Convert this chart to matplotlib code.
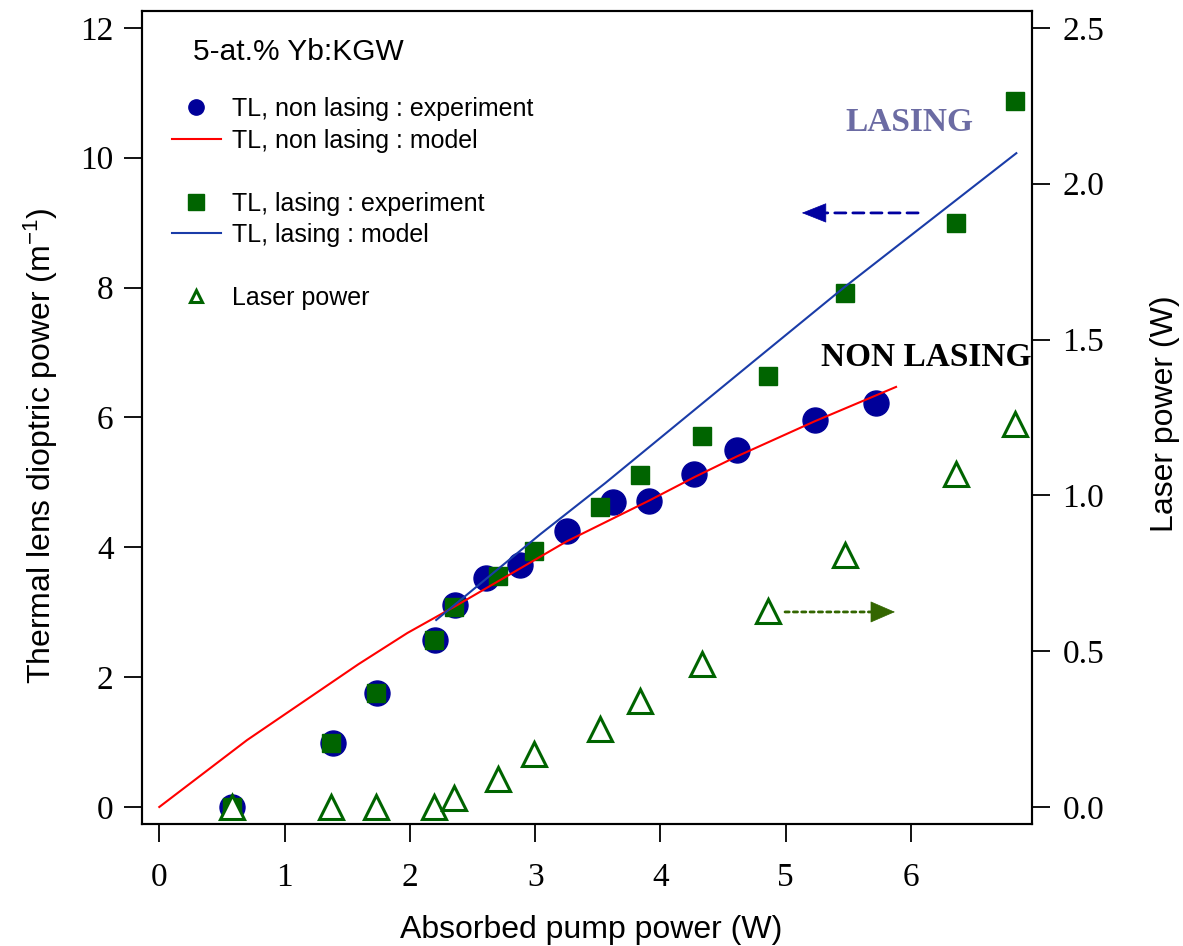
import matplotlib.pyplot as plt
from matplotlib.lines import Line2D

# thermal lens, non lasing : experiment
p_nl = [0.58, 1.39, 1.74, 2.20, 2.36, 2.61, 2.88, 3.25, 3.62, 3.91, 4.27, 4.61, 5.23, 5.72]
tl_nl = [0.0, 0.99, 1.76, 2.57, 3.11, 3.53, 3.73, 4.25, 4.70, 4.71, 5.13, 5.50, 5.96, 6.22]

# thermal lens, lasing : experiment  (+ laser output power, right axis)
p_las = [0.58, 1.37, 1.73, 2.19, 2.35, 2.70, 2.99, 3.52, 3.84, 4.33, 4.86, 5.47, 6.36, 6.83]
tl_las = [0.0, 0.99, 1.76, 2.57, 3.08, 3.56, 3.94, 4.62, 5.11, 5.72, 6.64, 7.92, 8.99, 10.87]
laser_w = [0.0, 0.0, 0.0, 0.0, 0.03, 0.09, 0.17, 0.25, 0.34, 0.46, 0.63, 0.81, 1.07, 1.23]

# models
p_mod_nl = [0.0, 0.70, 1.59, 1.98, 2.36, 3.25, 3.91, 4.27, 4.61, 5.23, 5.88]
tl_mod_nl = [0.0, 1.03, 2.20, 2.68, 3.09, 4.09, 4.72, 5.08, 5.40, 5.94, 6.47]
p_mod_las = [2.21, 3.04, 3.56, 4.76, 5.47, 6.84]
tl_mod_las = [2.88, 4.20, 4.99, 6.89, 8.01, 10.07]

navy = '#000099'
green = '#006400'
blue = '#1a3ca8'
sans = ['Liberation Sans Narrow', 'Liberation Sans', 'DejaVu Sans']

plt.rcParams['font.family'] = 'Liberation Serif'
plt.rcParams['mathtext.default'] = 'regular'

fig = plt.figure(figsize=(11.83, 9.46), dpi=100)
ax = fig.add_axes([141.5/1183, 1-824/946, 890.5/1183, 813/946])

ax.plot(p_nl, tl_nl, 'o', ms=18, color=navy, zorder=2)
ax.plot(p_las, tl_las, 's', ms=13, color=green, zorder=3)
ax.plot(p_mod_nl, tl_mod_nl, '-', color='red', lw=1.5, zorder=4)
ax.plot(p_mod_las, tl_mod_las, '-', color=blue, lw=1.5, zorder=4)

ax.set_xlim(-0.142, 6.965)
ax.set_ylim(-0.262, 12.26)
ax.set_xticks(range(0, 7))
ax.set_yticks(range(0, 13, 2))

ax2 = ax.twinx()
ax2.plot(p_las, laser_w, '^', ms=17, mfc='white', mec=green, mew=2.2)
ax2.set_ylim(-0.262/4.8, 12.26/4.8)
ax2.set_yticks([0, 0.5, 1.0, 1.5, 2.0, 2.5])
ax2.set_yticklabels(['0.0', '0.5', '1.0', '1.5', '2.0', '2.5'])

for a in (ax, ax2):
    for s in a.spines.values():
        s.set_linewidth(1.5)
ax.tick_params(axis='both', direction='out', length=13, width=1.3, labelsize=24)
ax.tick_params(axis='y', pad=7)
ax.tick_params(axis='x', pad=15)
ax2.tick_params(axis='y', direction='out', length=13, width=1.3, labelsize=24, pad=9)

ax.set_xlabel('Absorbed pump power (W)', family=sans, fontsize=23)
ax.xaxis.set_label_coords(0.505, -0.112)
ax.set_ylabel('Thermal lens dioptric power (m$^{-1}$)', family=sans, fontsize=23)
ax.yaxis.set_label_coords(-0.092, 0.465)
ax2.set_ylabel('Laser power (W)', family=sans, fontsize=23, rotation=90)
ax2.yaxis.set_label_coords(1.132, 0.505)

ax.text(0.058, 0.95, '5-at.% Yb:KGW', transform=ax.transAxes, family=sans,
        fontsize=21.5, ha='left', va='center')

blank = Line2D([], [], ls='none')
handles = [
    Line2D([], [], ls='none', marker='o', ms=11, color=navy),
    Line2D([], [], color='red', lw=1.5),
    blank,
    Line2D([], [], ls='none', marker='s', ms=11, color=green),
    Line2D([], [], color=blue, lw=1.5),
    blank,
    Line2D([], [], ls='none', marker='^', ms=9, mfc='white', mec=green, mew=2.2),
]
labels = ['TL, non lasing : experiment', 'TL, non lasing : model', '',
          'TL, lasing : experiment', 'TL, lasing : model', '', 'Laser power']
ax.legend(handles, labels, loc='upper left', bbox_to_anchor=(0.034, 0.894),
          frameon=False, borderpad=0, borderaxespad=0, handlelength=1.95,
          handletextpad=0.45, labelspacing=0.3, prop={'family': sans, 'size': 18})

ax.text(5.99, 10.55, 'LASING', color='#6b6ba3', fontsize=24, fontweight='bold',
        ha='center', va='center')
ax.text(6.12, 6.93, 'NON LASING', color='black', fontsize=24, fontweight='bold',
        ha='center', va='center')

# arrows pointing to the relevant axis: dashed shaft + solid head
ax.annotate('', xy=(5.31, 9.15), xytext=(6.056, 9.15),
            arrowprops=dict(arrowstyle='-', color='#0000a0', lw=2,
                            linestyle=(0, (4, 2.5)), shrinkA=0, shrinkB=0))
ax.annotate('', xy=(5.128, 9.15), xytext=(5.31, 9.15),
            arrowprops=dict(arrowstyle='-|>,head_length=0.83,head_width=0.33',
                            mutation_scale=20, color='#0000a0', lw=0.5,
                            shrinkA=0, shrinkB=0))
ax.annotate('', xy=(5.69, 3.004), xytext=(4.994, 3.004),
            arrowprops=dict(arrowstyle='-', color='#336600', lw=2,
                            linestyle=(0, (1.5, 1.5)), shrinkA=0, shrinkB=0))
ax.annotate('', xy=(5.871, 3.004), xytext=(5.69, 3.004),
            arrowprops=dict(arrowstyle='-|>,head_length=0.83,head_width=0.36',
                            mutation_scale=20, color='#336600', lw=0.5,
                            shrinkA=0, shrinkB=0))

fig.savefig('out.png', dpi=100)
